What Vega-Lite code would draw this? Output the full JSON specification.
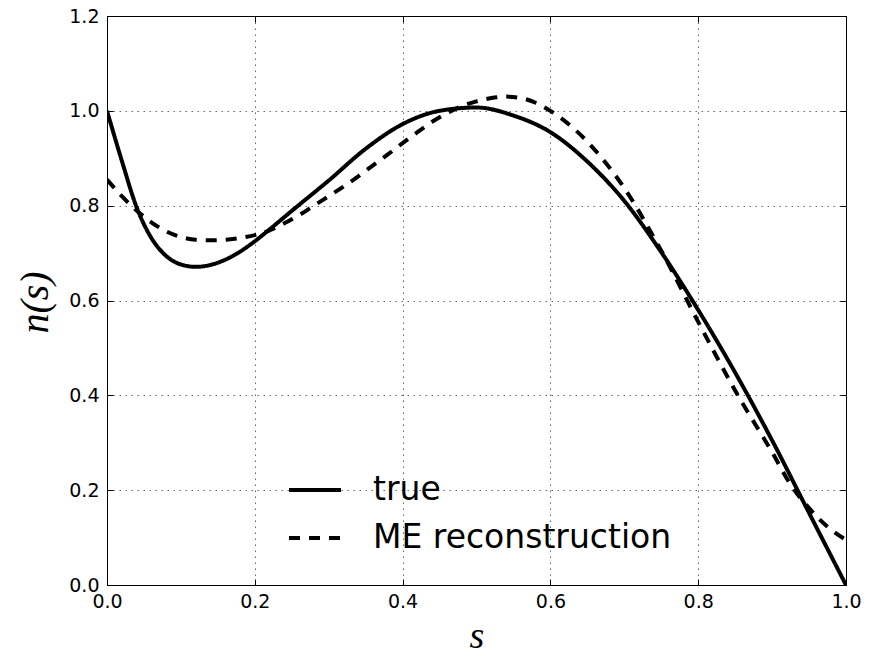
{
  "$schema": "https://vega.github.io/schema/vega-lite/v6.json",
  "width": 739,
  "height": 569,
  "autosize": {"type": "none"},
  "padding": {"left": 107, "top": 16, "right": 29, "bottom": 71},
  "background": "white",
  "config": {
    "view": {"stroke": "black", "strokeWidth": 1},
    "axis": {
      "labelFont": "DejaVu Sans",
      "labelFontSize": 19,
      "labelColor": "black",
      "labelFlush": false,
      "labelOverlap": false,
      "domainColor": "black",
      "tickColor": "black",
      "gridColor": "black",
      "gridOpacity": 0.75,
      "gridWidth": 0.8,
      "gridDash": [1.5, 4.5],
      "titleFont": "Liberation Serif",
      "titleFontStyle": "italic",
      "titleFontWeight": "normal",
      "titleFontSize": 40,
      "titleColor": "black"
    },
    "legend": {
      "orient": "none",
      "legendX": 180,
      "legendY": 446,
      "symbolType": "stroke",
      "symbolSize": 2704,
      "symbolStrokeWidth": 4,
      "symbolStrokeColor": "black",
      "labelFont": "DejaVu Sans",
      "labelFontSize": 33,
      "labelColor": "black",
      "labelOffset": 30,
      "labelLimit": 0,
      "rowPadding": 3,
      "titlePadding": 0
    }
  },
  "data": {
    "values": [
      {"s": 0.0, "n": 1.0, "series": "true"},
      {"s": 0.02, "n": 0.895, "series": "true"},
      {"s": 0.04, "n": 0.797, "series": "true"},
      {"s": 0.06, "n": 0.732, "series": "true"},
      {"s": 0.08, "n": 0.694, "series": "true"},
      {"s": 0.10, "n": 0.676, "series": "true"},
      {"s": 0.12, "n": 0.671, "series": "true"},
      {"s": 0.14, "n": 0.675, "series": "true"},
      {"s": 0.16, "n": 0.686, "series": "true"},
      {"s": 0.18, "n": 0.703, "series": "true"},
      {"s": 0.20, "n": 0.725, "series": "true"},
      {"s": 0.22, "n": 0.75, "series": "true"},
      {"s": 0.25, "n": 0.789, "series": "true"},
      {"s": 0.30, "n": 0.853, "series": "true"},
      {"s": 0.35, "n": 0.92, "series": "true"},
      {"s": 0.40, "n": 0.972, "series": "true"},
      {"s": 0.45, "n": 1.0, "series": "true"},
      {"s": 0.50, "n": 1.007, "series": "true"},
      {"s": 0.55, "n": 0.99, "series": "true"},
      {"s": 0.60, "n": 0.955, "series": "true"},
      {"s": 0.65, "n": 0.893, "series": "true"},
      {"s": 0.70, "n": 0.81, "series": "true"},
      {"s": 0.75, "n": 0.702, "series": "true"},
      {"s": 0.80, "n": 0.58, "series": "true"},
      {"s": 0.85, "n": 0.448, "series": "true"},
      {"s": 0.90, "n": 0.305, "series": "true"},
      {"s": 0.95, "n": 0.152, "series": "true"},
      {"s": 1.0, "n": 0.0, "series": "true"},
      {"s": 0.0, "n": 0.855, "series": "ME reconstruction"},
      {"s": 0.02, "n": 0.82, "series": "ME reconstruction"},
      {"s": 0.04, "n": 0.79, "series": "ME reconstruction"},
      {"s": 0.06, "n": 0.765, "series": "ME reconstruction"},
      {"s": 0.08, "n": 0.746, "series": "ME reconstruction"},
      {"s": 0.10, "n": 0.734, "series": "ME reconstruction"},
      {"s": 0.12, "n": 0.728, "series": "ME reconstruction"},
      {"s": 0.14, "n": 0.727, "series": "ME reconstruction"},
      {"s": 0.16, "n": 0.728, "series": "ME reconstruction"},
      {"s": 0.18, "n": 0.732, "series": "ME reconstruction"},
      {"s": 0.20, "n": 0.738, "series": "ME reconstruction"},
      {"s": 0.22, "n": 0.748, "series": "ME reconstruction"},
      {"s": 0.24, "n": 0.763, "series": "ME reconstruction"},
      {"s": 0.26, "n": 0.78, "series": "ME reconstruction"},
      {"s": 0.28, "n": 0.8, "series": "ME reconstruction"},
      {"s": 0.30, "n": 0.82, "series": "ME reconstruction"},
      {"s": 0.32, "n": 0.84, "series": "ME reconstruction"},
      {"s": 0.34, "n": 0.862, "series": "ME reconstruction"},
      {"s": 0.36, "n": 0.885, "series": "ME reconstruction"},
      {"s": 0.38, "n": 0.908, "series": "ME reconstruction"},
      {"s": 0.40, "n": 0.932, "series": "ME reconstruction"},
      {"s": 0.42, "n": 0.955, "series": "ME reconstruction"},
      {"s": 0.44, "n": 0.977, "series": "ME reconstruction"},
      {"s": 0.46, "n": 0.995, "series": "ME reconstruction"},
      {"s": 0.48, "n": 1.01, "series": "ME reconstruction"},
      {"s": 0.50, "n": 1.02, "series": "ME reconstruction"},
      {"s": 0.52, "n": 1.027, "series": "ME reconstruction"},
      {"s": 0.54, "n": 1.03, "series": "ME reconstruction"},
      {"s": 0.56, "n": 1.027, "series": "ME reconstruction"},
      {"s": 0.58, "n": 1.017, "series": "ME reconstruction"},
      {"s": 0.60, "n": 1.0, "series": "ME reconstruction"},
      {"s": 0.65, "n": 0.935, "series": "ME reconstruction"},
      {"s": 0.70, "n": 0.837, "series": "ME reconstruction"},
      {"s": 0.75, "n": 0.705, "series": "ME reconstruction"},
      {"s": 0.80, "n": 0.555, "series": "ME reconstruction"},
      {"s": 0.85, "n": 0.41, "series": "ME reconstruction"},
      {"s": 0.90, "n": 0.28, "series": "ME reconstruction"},
      {"s": 0.925, "n": 0.212, "series": "ME reconstruction"},
      {"s": 0.95, "n": 0.162, "series": "ME reconstruction"},
      {"s": 0.975, "n": 0.123, "series": "ME reconstruction"},
      {"s": 1.0, "n": 0.095, "series": "ME reconstruction"}
    ]
  },
  "layer": [
    {
      "mark": {"type": "line", "color": "black", "strokeWidth": 4, "interpolate": "monotone", "clip": true},
      "encoding": {
        "x": {
          "field": "s", "type": "quantitative",
          "scale": {"domain": [0, 1], "nice": false},
          "axis": {
            "orient": "bottom", "values": [0, 0.2, 0.4, 0.6, 0.8, 1.0], "format": ".1f",
            "tickSize": -6, "labelPadding": 13, "grid": true,
            "title": "s", "titleX": 369.5, "titleY": 70, "titleAlign": "center", "titleBaseline": "bottom", "titleFontSize": 38
          }
        },
        "y": {
          "field": "n", "type": "quantitative",
          "scale": {"domain": [0, 1.2], "nice": false, "zero": false},
          "axis": {
            "orient": "left", "values": [0, 0.2, 0.4, 0.6, 0.8, 1.0, 1.2], "format": ".1f",
            "tickSize": -6, "labelPadding": 14, "grid": true,
            "title": "n(s)", "titleX": -60, "titleY": 286, "titleAngle": -90, "titleAlign": "center", "titleBaseline": "alphabetic"
          }
        },
        "strokeDash": {
          "field": "series", "type": "nominal",
          "scale": {"domain": ["true", "ME reconstruction"], "range": [[1, 0], [11, 9]]},
          "legend": {"title": null}
        }
      }
    },
    {
      "mark": {"type": "line", "opacity": 0},
      "encoding": {
        "x": {
          "field": "s", "type": "quantitative",
          "axis": {"orient": "top", "values": [0, 0.2, 0.4, 0.6, 0.8, 1.0], "labels": false, "domain": false, "grid": false, "tickSize": -6, "title": null}
        },
        "y": {
          "field": "n", "type": "quantitative",
          "axis": {"orient": "right", "values": [0, 0.2, 0.4, 0.6, 0.8, 1.0, 1.2], "labels": false, "domain": false, "grid": false, "tickSize": -6, "title": null}
        }
      }
    }
  ],
  "resolve": {"axis": {"x": "independent", "y": "independent"}}
}
